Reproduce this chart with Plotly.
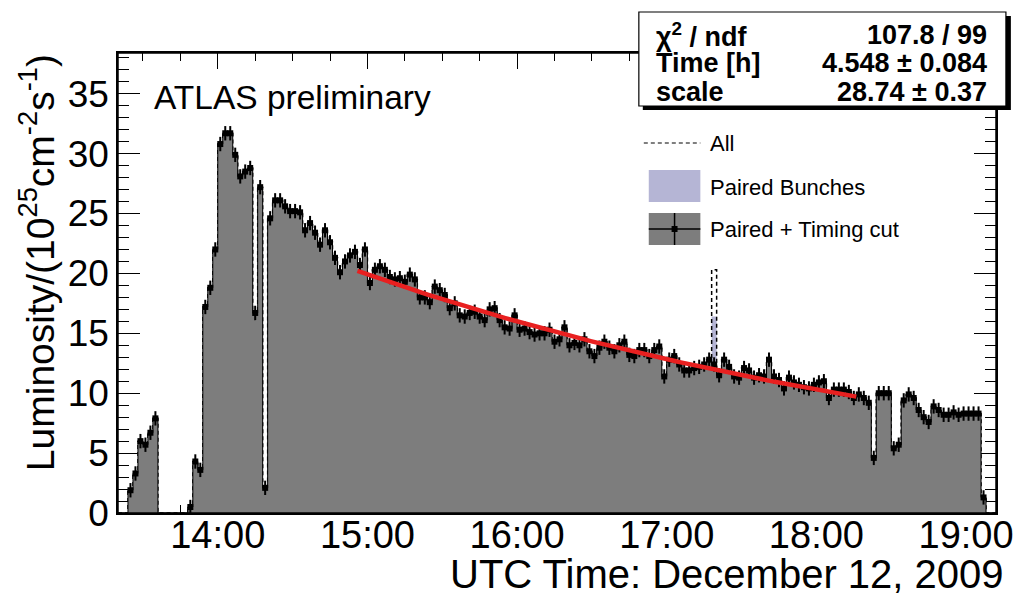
import math
import plotly.graph_objects as go

# ---------------- data ----------------
bin_start_h = 13 + 20 / 60.0      # histogram starts 13:20 UTC
bin_width_h = 2 / 60.0            # 2-minute bins

# Paired + Timing cut luminosity per 2-min bin (10^25 cm^-2 s^-1)
lum_timing = [
    0.0, 0.0, 1.9, 3.3, 6.0, 5.7, 6.7, 7.9, 0.0, 0.0,
    0.0, 0.0, 0.0, 0.0, 0.5, 4.3, 3.6, 17.2, 18.8, 22.0,
    30.8, 31.7, 31.7, 29.9, 28.1, 28.5, 28.8, 16.7, 27.2, 2.1,
    24.6, 26.1, 26.1, 25.6, 25.2, 25.2, 25.1, 23.6, 24.2, 23.4,
    22.4, 23.6, 22.6, 21.3, 20.1, 21.0, 21.5, 21.8, 20.7, 22.0,
    19.2, 20.3, 20.6, 20.3, 19.7, 19.5, 19.6, 19.3, 19.9, 19.5,
    18.0, 18.0, 17.6, 18.9, 18.6, 18.2, 17.1, 17.5, 16.5, 16.4,
    16.7, 16.8, 16.4, 16.1, 17.0, 17.1, 16.1, 15.5, 15.4, 16.5,
    15.3, 15.4, 15.1, 14.9, 15.0, 15.0, 15.3, 14.3, 14.5, 15.5,
    14.0, 14.2, 14.0, 14.5, 13.5, 13.1, 13.8, 14.3, 13.8, 13.5,
    14.0, 14.3, 13.2, 13.1, 13.6, 13.6, 13.1, 13.6, 13.9, 11.4,
    12.8, 13.1, 12.4, 11.9, 11.9, 12.1, 12.2, 12.4, 12.8, 12.4,
    11.5, 12.8, 12.2, 11.4, 11.3, 12.1, 11.9, 11.3, 11.5, 11.4,
    12.8, 11.4, 11.1, 10.4, 11.3, 10.9, 10.7, 10.5, 10.4, 10.7,
    10.9, 11.0, 9.6, 10.3, 10.3, 10.3, 10.1, 9.6, 9.9, 9.6,
    9.2, 4.6, 10.0, 10.0, 10.0, 5.4, 5.7, 9.4, 9.9, 9.6,
    8.6, 8.0, 7.6, 8.9, 8.6, 8.2, 8.2, 8.4, 8.2, 8.3,
    8.3, 8.3, 8.3, 1.3, 0.0, 0.0,
]
lum_err = 0.6                      # typical vertical error bar

# bins where "All" / "Paired Bunches" differ from the timing-cut histogram
spike_bins = [119]
lum_all_spike = [20.3]
lum_paired_spike = [16.4]

# exponential fit: scale * exp(-(t - t0) / tau)
fit_scale = 28.74
fit_tau_h = 4.548
fit_from_h = 14 + 56 / 60.0
fit_to_h = 18 + 16 / 60.0

x_tick_vals = [14, 15, 16, 17, 18, 19]
x_tick_text = ["14:00", "15:00", "16:00", "17:00", "18:00", "19:00"]
y_tick_vals = [0, 5, 10, 15, 20, 25, 30, 35]

stats_rows = [("χ<sup>2</sup> / ndf", "107.8 / 99"),
              ("Time [h]", "4.548 ± 0.084"),
              ("scale", "28.74 ± 0.37")]
legend_labels = ["All", "Paired Bunches", "Paired + Timing cut"]

# ---------------- derived ----------------
nb = len(lum_timing)
edges = [bin_start_h + i * bin_width_h for i in range(nb + 1)]
centers = [bin_start_h + (i + 0.5) * bin_width_h for i in range(nb)]

lum_paired = list(lum_timing)
lum_all = list(lum_timing)
for b, a, p in zip(spike_bins, lum_all_spike, lum_paired_spike):
    lum_all[b] = a
    lum_paired[b] = p

GREY = "#7d7d7d"
LAV = "#b5b5d5"
FONT = "Liberation Sans, Arial, Helvetica, sans-serif"
DASH = "4px,3px"

# plot-area geometry in pixels
W, H = 1025, 595
L, R, T, B = 118, 1003, 53, 513


def px(x):
    return (x - L) / (R - L)


def py(y):
    return (B - y) / (B - T)


fig = go.Figure()

# Paired bunches (lavender)
fig.add_trace(go.Scatter(x=edges, y=lum_paired + [lum_paired[-1]], mode="lines",
                         line=dict(shape="hv", width=0, color=LAV),
                         fill="tozeroy", fillcolor=LAV, hoverinfo="skip",
                         showlegend=False))
# All (dashed)
fig.add_trace(go.Scatter(x=edges, y=lum_all + [lum_all[-1]], mode="lines",
                         line=dict(shape="hv", width=1.5, color="black", dash=DASH),
                         hoverinfo="skip", showlegend=False))
# Paired + timing cut (grey filled)
fig.add_trace(go.Scatter(x=edges, y=lum_timing + [0.0], mode="lines",
                         line=dict(shape="hv", width=1, color="black"),
                         fill="tozeroy", fillcolor=GREY, hoverinfo="skip",
                         showlegend=False))
# data points with errors
mx = [c for c, v in zip(centers, lum_timing) if v > 0]
my = [v for v in lum_timing if v > 0]
fig.add_trace(go.Scatter(x=mx, y=my, mode="markers",
                         marker=dict(symbol="square", size=6, color="black"),
                         error_x=dict(type="constant", value=bin_width_h / 2,
                                      color="black", thickness=2, width=0),
                         error_y=dict(type="constant", value=lum_err,
                                      color="black", thickness=2, width=0),
                         hoverinfo="skip", showlegend=False))
# fit curve
nfit = 200
ft = [fit_from_h + (fit_to_h - fit_from_h) * k / (nfit - 1) for k in range(nfit)]
fy = [fit_scale * math.exp(-(t - bin_start_h) / fit_tau_h) for t in ft]
fig.add_trace(go.Scatter(x=ft, y=fy, mode="lines",
                         line=dict(color="#e82020", width=4.5),
                         hoverinfo="skip", showlegend=False))

shapes = []
# frame on top
shapes.append(dict(type="rect", xref="paper", yref="paper", x0=0, x1=1, y0=0, y1=1,
                   line=dict(color="black", width=1.5), layer="above"))
# stats box with shadow
shapes.append(dict(type="rect", xref="paper", yref="paper",
                   x0=px(647), x1=px(1018), y0=py(16), y1=py(110),
                   fillcolor="black", line=dict(width=0), layer="above"))
shapes.append(dict(type="rect", xref="paper", yref="paper",
                   x0=px(643), x1=px(1013), y0=py(12), y1=py(106),
                   fillcolor="white", line=dict(color="black", width=1.2), layer="above"))
# legend symbols
shapes.append(dict(type="line", xref="paper", yref="paper",
                   x0=px(648), x1=px(705), y0=py(143), y1=py(143),
                   line=dict(color="black", width=1.2, dash=DASH), layer="above"))
shapes.append(dict(type="rect", xref="paper", yref="paper",
                   x0=px(653), x1=px(705), y0=py(170), y1=py(202),
                   fillcolor=LAV, line=dict(width=0), layer="above"))
shapes.append(dict(type="rect", xref="paper", yref="paper",
                   x0=px(653), x1=px(705), y0=py(213), y1=py(245),
                   fillcolor=GREY, line=dict(width=0), layer="above"))
shapes.append(dict(type="line", xref="paper", yref="paper",
                   x0=px(653), x1=px(705), y0=py(229), y1=py(229),
                   line=dict(color="black", width=1.5), layer="above"))
shapes.append(dict(type="line", xref="paper", yref="paper",
                   x0=px(679), x1=px(679), y0=py(213), y1=py(245),
                   line=dict(color="black", width=1.5), layer="above"))
shapes.append(dict(type="rect", xref="paper", yref="paper",
                   x0=px(676), x1=px(682), y0=py(226), y1=py(232),
                   fillcolor="black", line=dict(width=0), layer="above"))

ann = []
ann.append(dict(text="ATLAS preliminary", x=px(152), y=py(97), xref="paper", yref="paper",
                xanchor="left", yanchor="middle", showarrow=False,
                font=dict(family=FONT, size=33.5, color="black")))
ann.append(dict(text="UTC Time: December 12, 2009", x=px(1013), y=py(574),
                xref="paper", yref="paper", xanchor="right", yanchor="middle",
                showarrow=False, font=dict(family=FONT, size=40, color="black")))
ann.append(dict(text="Luminosity/(10<sup>25</sup>cm<sup>-2</sup>s<sup>-1</sup>)",
                x=px(36), y=py(52), xref="paper", yref="paper", textangle=-90,
                xanchor="center", yanchor="top", showarrow=False,
                font=dict(family=FONT, size=39, color="black")))
row_y = [35, 63, 92]
for (lab, val), yy in zip(stats_rows, row_y):
    ann.append(dict(text="<b>%s</b>" % lab, x=px(658), y=py(yy), xref="paper", yref="paper",
                    xanchor="left", yanchor="middle", showarrow=False,
                    font=dict(family=FONT, size=27, color="black")))
    ann.append(dict(text="<b>%s</b>" % val, x=px(996), y=py(yy), xref="paper", yref="paper",
                    xanchor="right", yanchor="middle", showarrow=False,
                    font=dict(family=FONT, size=27, color="black")))
for lab, yy in zip(legend_labels, [143, 187, 229]):
    ann.append(dict(text=lab, x=px(713), y=py(yy), xref="paper", yref="paper",
                    xanchor="left", yanchor="middle", showarrow=False,
                    font=dict(family=FONT, size=22, color="black")))

fig.update_layout(
    width=W, height=H,
    margin=dict(l=L, r=W - R, t=T, b=H - B, pad=0),
    paper_bgcolor="white", plot_bgcolor="white",
    shapes=shapes, annotations=ann,
    font=dict(family=FONT, color="black"),
    xaxis=dict(range=[edges[0], edges[-1]], tickvals=x_tick_vals, ticktext=x_tick_text,
               ticks="inside", ticklen=16, tickwidth=1.2, tickcolor="black",
               minor=dict(dtick=0.25, tick0=14, ticks="inside", ticklen=8,
                          tickwidth=1, tickcolor="black"),
               showline=True, linecolor="black", linewidth=1.5, mirror="ticks",
               showgrid=False, zeroline=False, layer="below traces",
               ticklabelstandoff=-12,
               tickfont=dict(family=FONT, size=38, color="black")),
    yaxis=dict(range=[0, 38.4], tickvals=y_tick_vals,
               ticks="inside", ticklen=22, tickwidth=1.2, tickcolor="black",
               minor=dict(dtick=1, tick0=0, ticks="inside", ticklen=11,
                          tickwidth=1, tickcolor="black"),
               showline=True, linecolor="black", linewidth=1.5, mirror="ticks",
               showgrid=False, zeroline=False, layer="below traces",
               tickfont=dict(family=FONT, size=37, color="black")),
)

fig.write_html("out.html")
